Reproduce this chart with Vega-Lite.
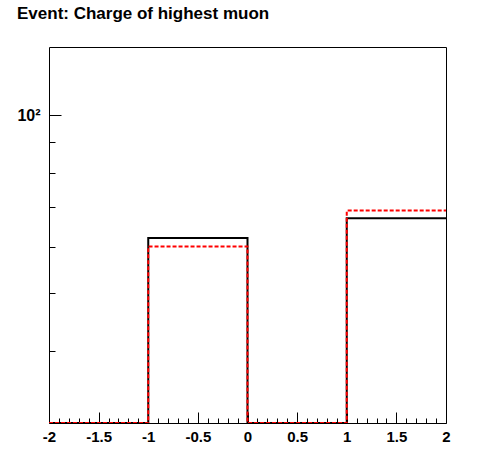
{
  "$schema": "https://vega.github.io/schema/vega-lite/v6.json",
  "autosize": "none",
  "width": 397,
  "height": 376,
  "padding": {"left": 49, "top": 47, "right": 50, "bottom": 49},
  "background": "white",
  "title": {
    "text": "Event: Charge of highest muon",
    "anchor": "start",
    "frame": "group",
    "font": "Liberation Sans",
    "fontSize": 17,
    "fontWeight": "bold",
    "color": "black",
    "dx": -32,
    "offset": 24
  },
  "config": {
    "view": {"stroke": "black", "strokeWidth": 1},
    "axis": {
      "domain": false,
      "grid": false,
      "tickColor": "black",
      "tickWidth": 1,
      "labelFont": "Liberation Sans",
      "labelFontWeight": "bold",
      "labelFontSize": 15,
      "labelColor": "black",
      "title": null
    }
  },
  "data": {
    "values": [
      {"x": -2, "count": 0, "series": "h1"},
      {"x": -1, "count": 62, "series": "h1"},
      {"x": 0, "count": 0, "series": "h1"},
      {"x": 1, "count": 67, "series": "h1"},
      {"x": 2, "count": 67, "series": "h1"},
      {"x": -2, "count": 0, "series": "h2"},
      {"x": -1, "count": 60, "series": "h2"},
      {"x": 0, "count": 0, "series": "h2"},
      {"x": 1, "count": 69, "series": "h2"},
      {"x": 2, "count": 69, "series": "h2"}
    ]
  },
  "resolve": {"axis": {"x": "independent", "y": "independent"}},
  "layer": [
    {
      "mark": {"type": "line", "interpolate": "step-after", "strokeWidth": 2, "invalid": "show", "clip": true},
      "encoding": {
        "x": {
          "field": "x", "type": "quantitative",
          "scale": {"domain": [-2, 2], "nice": false, "zero": false},
          "axis": {"orient": "bottom", "values": [-2, -1.5, -1, -0.5, 0, 0.5, 1, 1.5, 2], "labelExpr": "toString(datum.value)", "tickSize": -11, "labelPadding": 17, "labelFlush": false}
        },
        "y": {
          "field": "count", "type": "quantitative",
          "scale": {"type": "log", "domain": [30.2, 130.4], "nice": false, "clamp": true},
          "axis": {"orient": "left", "values": [100], "labelExpr": "'10²'", "tickSize": -12, "labelPadding": 21, "labelFontSize": 16}
        },
        "color": {"field": "series", "type": "nominal", "scale": {"domain": ["h1", "h2"], "range": ["black", "#ff0000"]}, "legend": null},
        "strokeDash": {"field": "series", "type": "nominal", "scale": {"domain": ["h1", "h2"], "range": [[1, 0], [4, 2]]}, "legend": null}
      }
    },
    {
      "mark": {"type": "line", "opacity": 0, "invalid": "show"},
      "encoding": {
        "x": {
          "field": "x", "type": "quantitative",
          "axis": {"orient": "bottom", "values": [-1.9, -1.8, -1.7, -1.6, -1.4, -1.3, -1.2, -1.1, -0.9, -0.8, -0.7, -0.6, -0.4, -0.3, -0.2, -0.1, 0.1, 0.2, 0.3, 0.4, 0.6, 0.7, 0.8, 0.9, 1.1, 1.2, 1.3, 1.4, 1.6, 1.7, 1.8, 1.9], "tickSize": -5, "labels": false}
        },
        "y": {
          "field": "count", "type": "quantitative",
          "axis": {"orient": "left", "values": [40, 50, 60, 70, 80, 90], "tickSize": -6, "labels": false}
        }
      }
    }
  ]
}
